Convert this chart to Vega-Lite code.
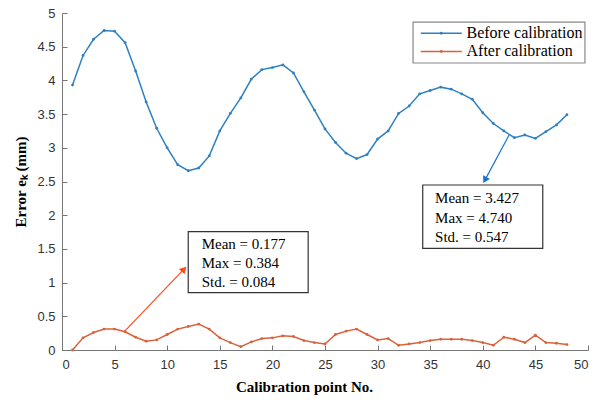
{
  "$schema": "https://vega.github.io/schema/vega-lite/v6.json",
  "width": 526,
  "height": 337,
  "autosize": "none",
  "padding": {"left": 62, "top": 13, "right": 9, "bottom": 50},
  "background": "white",
  "config": {
    "view": {"stroke": null},
    "axis": {
      "grid": false,
      "domainColor": "#777",
      "tickColor": "#777",
      "tickSize": -5,
      "labelOverlap": false,
      "labelFont": "Liberation Sans",
      "labelFontSize": 13,
      "labelColor": "#333",
      "titleFont": "Liberation Serif",
      "titleFontSize": 15,
      "titleFontWeight": "bold",
      "titleColor": "#000"
    }
  },
  "datasets": {
    "err": [
      {"x": 1, "y": 3.93, "s": "Before calibration"},
      {"x": 2, "y": 4.37, "s": "Before calibration"},
      {"x": 3, "y": 4.61, "s": "Before calibration"},
      {"x": 4, "y": 4.74, "s": "Before calibration"},
      {"x": 5, "y": 4.73, "s": "Before calibration"},
      {"x": 6, "y": 4.56, "s": "Before calibration"},
      {"x": 7, "y": 4.14, "s": "Before calibration"},
      {"x": 8, "y": 3.68, "s": "Before calibration"},
      {"x": 9, "y": 3.29, "s": "Before calibration"},
      {"x": 10, "y": 3.0, "s": "Before calibration"},
      {"x": 11, "y": 2.75, "s": "Before calibration"},
      {"x": 12, "y": 2.66, "s": "Before calibration"},
      {"x": 13, "y": 2.7, "s": "Before calibration"},
      {"x": 14, "y": 2.88, "s": "Before calibration"},
      {"x": 15, "y": 3.25, "s": "Before calibration"},
      {"x": 16, "y": 3.51, "s": "Before calibration"},
      {"x": 17, "y": 3.74, "s": "Before calibration"},
      {"x": 18, "y": 4.02, "s": "Before calibration"},
      {"x": 19, "y": 4.16, "s": "Before calibration"},
      {"x": 20, "y": 4.19, "s": "Before calibration"},
      {"x": 21, "y": 4.23, "s": "Before calibration"},
      {"x": 22, "y": 4.11, "s": "Before calibration"},
      {"x": 23, "y": 3.83, "s": "Before calibration"},
      {"x": 24, "y": 3.56, "s": "Before calibration"},
      {"x": 25, "y": 3.28, "s": "Before calibration"},
      {"x": 26, "y": 3.08, "s": "Before calibration"},
      {"x": 27, "y": 2.92, "s": "Before calibration"},
      {"x": 28, "y": 2.84, "s": "Before calibration"},
      {"x": 29, "y": 2.9, "s": "Before calibration"},
      {"x": 30, "y": 3.13, "s": "Before calibration"},
      {"x": 31, "y": 3.25, "s": "Before calibration"},
      {"x": 32, "y": 3.51, "s": "Before calibration"},
      {"x": 33, "y": 3.62, "s": "Before calibration"},
      {"x": 34, "y": 3.8, "s": "Before calibration"},
      {"x": 35, "y": 3.85, "s": "Before calibration"},
      {"x": 36, "y": 3.9, "s": "Before calibration"},
      {"x": 37, "y": 3.87, "s": "Before calibration"},
      {"x": 38, "y": 3.8, "s": "Before calibration"},
      {"x": 39, "y": 3.72, "s": "Before calibration"},
      {"x": 40, "y": 3.52, "s": "Before calibration"},
      {"x": 41, "y": 3.36, "s": "Before calibration"},
      {"x": 42, "y": 3.25, "s": "Before calibration"},
      {"x": 43, "y": 3.15, "s": "Before calibration"},
      {"x": 44, "y": 3.19, "s": "Before calibration"},
      {"x": 45, "y": 3.14, "s": "Before calibration"},
      {"x": 46, "y": 3.24, "s": "Before calibration"},
      {"x": 47, "y": 3.34, "s": "Before calibration"},
      {"x": 48, "y": 3.49, "s": "Before calibration"},
      {"x": 1, "y": 0.0, "s": "After calibration"},
      {"x": 2, "y": 0.18, "s": "After calibration"},
      {"x": 3, "y": 0.26, "s": "After calibration"},
      {"x": 4, "y": 0.31, "s": "After calibration"},
      {"x": 5, "y": 0.31, "s": "After calibration"},
      {"x": 6, "y": 0.27, "s": "After calibration"},
      {"x": 7, "y": 0.19, "s": "After calibration"},
      {"x": 8, "y": 0.13, "s": "After calibration"},
      {"x": 9, "y": 0.15, "s": "After calibration"},
      {"x": 10, "y": 0.23, "s": "After calibration"},
      {"x": 11, "y": 0.31, "s": "After calibration"},
      {"x": 12, "y": 0.35, "s": "After calibration"},
      {"x": 13, "y": 0.384, "s": "After calibration"},
      {"x": 14, "y": 0.31, "s": "After calibration"},
      {"x": 15, "y": 0.18, "s": "After calibration"},
      {"x": 16, "y": 0.11, "s": "After calibration"},
      {"x": 17, "y": 0.05, "s": "After calibration"},
      {"x": 18, "y": 0.12, "s": "After calibration"},
      {"x": 19, "y": 0.17, "s": "After calibration"},
      {"x": 20, "y": 0.18, "s": "After calibration"},
      {"x": 21, "y": 0.21, "s": "After calibration"},
      {"x": 22, "y": 0.2, "s": "After calibration"},
      {"x": 23, "y": 0.14, "s": "After calibration"},
      {"x": 24, "y": 0.11, "s": "After calibration"},
      {"x": 25, "y": 0.09, "s": "After calibration"},
      {"x": 26, "y": 0.23, "s": "After calibration"},
      {"x": 27, "y": 0.28, "s": "After calibration"},
      {"x": 28, "y": 0.31, "s": "After calibration"},
      {"x": 29, "y": 0.23, "s": "After calibration"},
      {"x": 30, "y": 0.15, "s": "After calibration"},
      {"x": 31, "y": 0.17, "s": "After calibration"},
      {"x": 32, "y": 0.07, "s": "After calibration"},
      {"x": 33, "y": 0.09, "s": "After calibration"},
      {"x": 34, "y": 0.11, "s": "After calibration"},
      {"x": 35, "y": 0.14, "s": "After calibration"},
      {"x": 36, "y": 0.16, "s": "After calibration"},
      {"x": 37, "y": 0.16, "s": "After calibration"},
      {"x": 38, "y": 0.16, "s": "After calibration"},
      {"x": 39, "y": 0.14, "s": "After calibration"},
      {"x": 40, "y": 0.11, "s": "After calibration"},
      {"x": 41, "y": 0.07, "s": "After calibration"},
      {"x": 42, "y": 0.19, "s": "After calibration"},
      {"x": 43, "y": 0.16, "s": "After calibration"},
      {"x": 44, "y": 0.11, "s": "After calibration"},
      {"x": 45, "y": 0.22, "s": "After calibration"},
      {"x": 46, "y": 0.11, "s": "After calibration"},
      {"x": 47, "y": 0.1, "s": "After calibration"},
      {"x": 48, "y": 0.08, "s": "After calibration"}
    ],
    "boxes": [
      {"x": 12.0, "x2": 23.4, "y": 1.755, "y2": 0.85},
      {"x": 34.29, "x2": 45.7, "y": 2.448, "y2": 1.509}
    ],
    "notes": [
      {"x": 13.28, "y": 1.573, "t": "Mean = 0.177"},
      {"x": 13.28, "y": 1.291, "t": "Max = 0.384"},
      {"x": 13.28, "y": 1.013, "t": "Std. = 0.084"},
      {"x": 35.46, "y": 2.251, "t": "Mean = 3.427"},
      {"x": 35.46, "y": 1.963, "t": "Max = 4.740"},
      {"x": 35.46, "y": 1.681, "t": "Std. = 0.547"}
    ],
    "legline": [
      {"s": "Before calibration", "x": 34.1, "x2": 38.0, "y": 4.70},
      {"s": "After calibration", "x": 34.1, "x2": 38.0, "y": 4.43}
    ],
    "legdot": [
      {"s": "Before calibration", "x": 36.05, "y": 4.70},
      {"s": "After calibration", "x": 36.05, "y": 4.43}
    ],
    "legtext": [
      {"s": "Before calibration", "x": 38.45, "y": 4.70},
      {"s": "After calibration", "x": 38.45, "y": 4.43}
    ]
  },
  "encoding": {
    "x": {"field": "x", "type": "quantitative", "scale": {"domain": [0, 50], "nice": false},
      "axis": {"values": [0,5,10,15,20,25,30,35,40,45,50], "tickCount": 20, "format": "~g", "title": "Calibration point No.", "titlePadding": 8, "labelPadding": 13, "titleX": 242}},
    "y": {"field": "y", "type": "quantitative", "scale": {"domain": [0, 5], "nice": false},
      "axis": {"values": [0,0.5,1,1.5,2,2.5,3,3.5,4,4.5,5], "tickCount": 20, "format": "~g", "title": "Error eₖ (mm)", "titlePadding": 8, "labelPadding": 12}}
  },
  "layer": [
    {
      "data": {"name": "err"},
      "mark": {"type": "line", "strokeWidth": 1.5},
      "encoding": {
        "color": {"field": "s", "type": "nominal",
          "scale": {"domain": ["Before calibration", "After calibration"], "range": ["#2f80c0", "#d9623b"]},
          "legend": null}
      }
    },
    {
      "data": {"name": "err"},
      "mark": {"type": "point", "filled": true, "size": 8, "opacity": 1},
      "encoding": {
        "color": {"field": "s", "type": "nominal", "legend": null}
      }
    },
    {
      "data": {"values": [{"x": 33.37, "x2": 49.71, "y": 4.866, "y2": 4.258}]},
      "mark": {"type": "rect", "fill": "white", "stroke": "#888", "strokeWidth": 1.2},
      "encoding": {"x2": {"field": "x2"}, "y2": {"field": "y2"}}
    },
    {
      "data": {"name": "legline"},
      "mark": {"type": "rule", "strokeWidth": 1.5},
      "encoding": {
        "x2": {"field": "x2"},
        "color": {"field": "s", "type": "nominal", "legend": null}
      }
    },
    {
      "data": {"name": "legdot"},
      "mark": {"type": "point", "filled": true, "size": 8, "opacity": 1},
      "encoding": {
        "color": {"field": "s", "type": "nominal", "legend": null}
      }
    },
    {
      "data": {"name": "legtext"},
      "mark": {"type": "text", "align": "left", "baseline": "middle", "font": "Liberation Serif", "fontSize": 16, "color": "#000"},
      "encoding": {"text": {"field": "s"}}
    },
    {
      "data": {"values": [{"x": 5.9, "y": 0.27, "x2": 11.6, "y2": 1.2}]},
      "mark": {"type": "rule", "color": "#ff4a1c", "strokeWidth": 1.2},
      "encoding": {"x2": {"field": "x2"}, "y2": {"field": "y2"}}
    },
    {
      "data": {"values": [{"x": 11.6, "y": 1.2}]},
      "mark": {"type": "point", "shape": "triangle-up", "filled": true, "size": 60, "angle": 43.6, "color": "#ff4a1c", "opacity": 1},
      "encoding": {}
    },
    {
      "data": {"values": [{"x": 42.5, "y": 3.19, "x2": 40.2, "y2": 2.52}]},
      "mark": {"type": "rule", "color": "#1874cd", "strokeWidth": 1.2},
      "encoding": {"x2": {"field": "x2"}, "y2": {"field": "y2"}}
    },
    {
      "data": {"values": [{"x": 40.2, "y": 2.52}]},
      "mark": {"type": "point", "shape": "triangle-up", "filled": true, "size": 60, "angle": 208, "color": "#1874cd", "opacity": 1},
      "encoding": {}
    },
    {
      "data": {"name": "boxes"},
      "mark": {"type": "rect", "fill": "white", "stroke": "#333", "strokeWidth": 1.2},
      "encoding": {"x2": {"field": "x2"}, "y2": {"field": "y2"}}
    },
    {
      "data": {"name": "notes"},
      "mark": {"type": "text", "align": "left", "baseline": "middle", "font": "Liberation Serif", "fontSize": 15, "color": "#000"},
      "encoding": {"text": {"field": "t"}}
    }
  ]
}
